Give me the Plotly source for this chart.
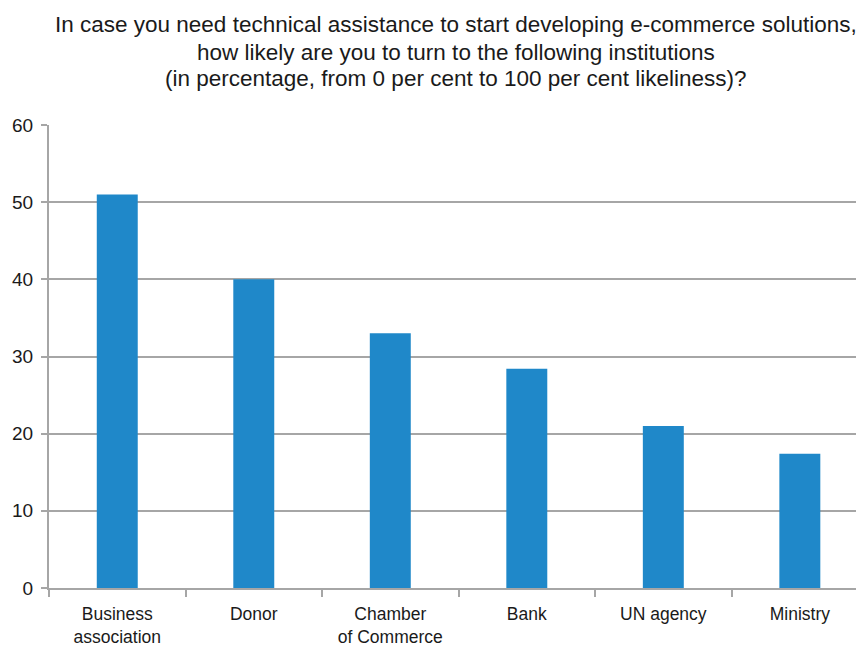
import plotly.graph_objects as go

categories = ["Business<br>association", "Donor", "Chamber<br>of Commerce", "Bank", "UN agency", "Ministry"]
values = [51.0, 40.0, 33.0, 28.4, 21.0, 17.4]
title_lines = [
    "In case you need technical assistance to start developing e-commerce solutions,",
    "how likely are you to turn to the following institutions",
    "(in percentage, from 0 per cent to 100 per cent likeliness)?",
]
y_ticks = [0, 10, 20, 30, 40, 50, 60]

FONT = "Liberation Sans, Arial, Helvetica, sans-serif"
GRID = "#a6a6a6"

fig = go.Figure(go.Bar(x=categories, y=values, marker=dict(color="#1f88c9", line=dict(width=0)), width=0.3))

# page body adds an 8px offset, so the figure is 8px smaller than the window
W, H = 856, 640
top, bottom, left = 117, 60, 41
ph = H - top - bottom
pw = W - left

anns = []
centers = [16.5, 44, 70.5]
for t, c in zip(title_lines, centers):
    anns.append(dict(text=t, xref="paper", yref="paper", x=(448 - left) / pw, y=(H - bottom - c) / ph,
                     xanchor="center", yanchor="middle", showarrow=False,
                     font=dict(family=FONT, size=22.5, color="#1a1a1a")))

fig.update_layout(
    width=W, height=H,
    margin=dict(l=left, r=0, t=top, b=bottom, pad=0, autoexpand=False),
    plot_bgcolor="white", paper_bgcolor="white",
    showlegend=False,
    annotations=anns,
    font=dict(family=FONT, size=17.5, color="#1a1a1a"),
    xaxis=dict(range=[-0.5, 5.47], tickson="boundaries", ticks="outside", ticklen=7, tickwidth=2,
               tickcolor=GRID, showline=True, linecolor=GRID, linewidth=2, showgrid=False,
               tickfont=dict(size=17.5), ticklabelstandoff=9, fixedrange=True, automargin=False),
    yaxis=dict(range=[0, 60], tickvals=y_ticks, ticks="outside", ticklen=6, tickwidth=2, tickcolor=GRID,
               showline=True, linecolor=GRID, linewidth=2, showgrid=True, gridcolor=GRID, gridwidth=2,
               zeroline=False, tickfont=dict(size=19), ticklabelstandoff=4, automargin=False),
    bargap=0.7,
)

fig.write_html("out.html")
